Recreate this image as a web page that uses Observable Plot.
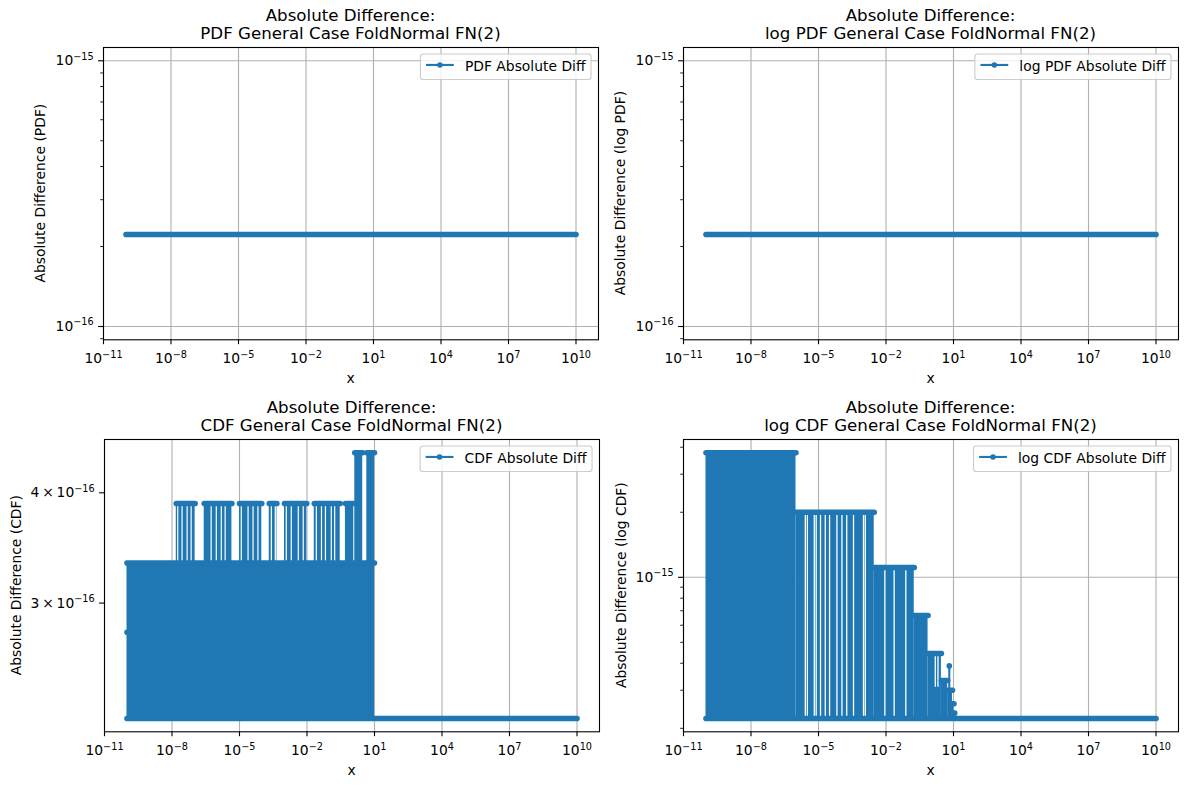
<!DOCTYPE html>
<html>
<head>
<meta charset="utf-8">
<script src="https://cdn.jsdelivr.net/npm/d3@7"></script>
<script src="https://cdn.jsdelivr.net/npm/@observablehq/plot@0.6"></script>
<style>
  html, body { margin: 0; padding: 0; background: #fff; }
  #figure { position: relative; width: 1189px; height: 789px; overflow: hidden; background: #fff; }
  #figure svg { position: absolute; overflow: visible; }
</style>
</head>
<body>
<div id="figure"></div>
<script>
// ---------------- data ----------------
// x was evaluated on a log grid from 1e-10 to 1e10
const xRange = [1e-10, 1e10];
const xTicks = [1e-11, 1e-8, 1e-5, 1e-2, 1e1, 1e4, 1e7, 1e10];

// PDF and log PDF: the absolute difference stays at 2.22e-16 everywhere
const pdfLevel = 2.22e-16;
const logPdfLevel = 2.22e-16;
const pdfYTicks = [1e-16, 1e-15];
const pdfYMinor = [9e-17, 2e-16, 3e-16, 4e-16, 5e-16, 6e-16, 7e-16, 8e-16, 9e-16];

// CDF: dense alternation between the floor and 3.33e-16 up to x ≈ 10, flat afterwards
const cdfFloor = 2.22e-16;
const cdfFirstPoint = [1e-10, 2.78e-16];
const cdfDenseEnd = 10;
const cdfDenseTop = 3.33e-16;
// runs of samples that reach 3.89e-16: [from, to]
const cdfLevelB = 3.89e-16;
const cdfRunsB = [[1.55e-8, 1.07e-7], [2.7e-7, 4.6e-6], [1.0e-5, 9.8e-5], [2.1e-4, 4.6e-4],
                  [1.0e-3, 9.8e-3], [2.1e-2, 0.30], [0.51, 1.2]];
// x where the series drops back between those samples
const cdfGapsB = [1.8e-8, 2.8e-8, 4.7e-8, 7.1e-8,
                  5.5e-7, 9.3e-7, 1.55e-6, 2.3e-6,
                  1.2e-5, 2.4e-5, 4.0e-5, 6.6e-5,
                  2.6e-4, 3.9e-4,
                  1.2e-3, 2.0e-3, 4.1e-3, 6.8e-3,
                  2.6e-2, 4.4e-2, 6.6e-2, 0.12, 0.17];
// runs that reach 4.44e-16
const cdfLevelC = 4.44e-16;
const cdfRunsC = [[1.33, 3.0], [4.55, 10]];
const cdfYTicks = [3e-16, 4e-16];
const cdfYTickLabels = ["3\u2009×\u200910^−16", "4\u2009×\u200910^−16"];

// log CDF: staircase of dense alternation [from, to, upper level], floor 2.22e-16
const lcdfFloor = 2.22e-16;
const lcdfSteps = [
  [1e-10, 1.0e-6, 3.77e-15],
  [1.0e-6, 3.0e-3, 2.0e-15],
  [3.0e-3, 0.18, 1.11e-15],
  [0.18, 0.74, 6.66e-16],
  [0.74, 2.9, 4.44e-16],
  [2.9, 5.5, 3.33e-16],
  [5.5, 9.0, 3.0e-16],
  [9.0, 10.5, 2.6e-16],
  [10.5, 11.3, 2.35e-16]
];
const lcdfGaps = [2.6e-6, 3.2e-6, 6.5e-6, 7.9e-6, 1.23e-5, 2.0e-5, 3.1e-5, 6.6e-5,
                  1.1e-4, 1.8e-4, 3.6e-4, 1.0e-3, 1.2e-3, 8.9e-3, 2.3e-2, 7.6e-2];
const lcdfShortGaps = [1.55, 2.04];
const lcdfShortGapLow = 3.1e-16;
const lcdfSpike = {x: 6.5, y1: 3.0e-16, y2: 3.89e-16};
const lcdfYTicks = [1e-15];
const lcdfYMinor = [2e-16, 3e-16, 4e-16, 5e-16, 6e-16, 7e-16, 8e-16, 9e-16, 2e-15, 3e-15, 4e-15];

// ---------------- style ----------------
const BLUE = "#1f77b4";
const GRID = "#b0b0b0";
const FONT = "DejaVu Sans";
const ROW = 5.6;       // thickness of a run of overlapping point markers
const DOT_R = 2.8;
const FRAME_W = 495, FRAME_H = 292.3;

// matplotlib-like log autoscale: 5% margin in log space, a full decade when flat
function padLog([a, b]) {
  let la = Math.log10(a), lb = Math.log10(b);
  if (la === lb) { la = Math.floor(la); lb = Math.ceil(lb); }
  const m = (lb - la) * 0.05;
  return [10 ** (la - m), 10 ** (lb + m)];
}
const powTen = v => "10^" + String(Math.round(Math.log10(v))).replace("-", "−");

// ---------------- marks ----------------
const rowMark = rows => Plot.link(rows, {x1: "x1", x2: "x2", y1: "y", y2: "y",
  stroke: BLUE, strokeWidth: ROW, strokeLinecap: "round"});

function flatMarks(level) {
  return [rowMark([{x1: xRange[0], x2: xRange[1], y: level}])];
}

function cdfMarks() {
  const blocks = [
    {x1: xRange[0], x2: cdfDenseEnd, y1: cdfFloor, y2: cdfDenseTop},
    ...cdfRunsB.map(([a, b]) => ({x1: a, x2: b, y1: cdfDenseTop, y2: cdfLevelB})),
    ...cdfRunsC.map(([a, b]) => ({x1: a, x2: b, y1: cdfDenseTop, y2: cdfLevelC}))
  ];
  const gaps = cdfGapsB.map(x => ({x, y1: cdfDenseTop, y2: cdfLevelB}));
  const rows = [
    {x1: xRange[0], x2: xRange[1], y: cdfFloor},
    {x1: xRange[0], x2: cdfDenseEnd, y: cdfDenseTop},
    ...cdfRunsB.map(([a, b]) => ({x1: a, x2: b, y: cdfLevelB})),
    ...cdfRunsC.map(([a, b]) => ({x1: a, x2: b, y: cdfLevelC}))
  ];
  return [
    Plot.rect(blocks, {x1: "x1", x2: "x2", y1: "y1", y2: "y2", fill: BLUE}),
    Plot.ruleX(gaps, {x: "x", y1: "y1", y2: "y2", stroke: "white", strokeWidth: 1.2}),
    rowMark(rows),
    Plot.dot([cdfFirstPoint], {x: d => d[0], y: d => d[1], r: DOT_R, fill: BLUE})
  ];
}

function lcdfMarks() {
  const blocks = lcdfSteps.map(([a, b, lv]) => ({x1: a, x2: b, y1: lcdfFloor, y2: lv}));
  const levelAt = x => lcdfSteps.find(([a, b]) => x >= a && x <= b)[2];
  const gaps = [
    ...lcdfGaps.map(x => ({x, y1: lcdfFloor, y2: levelAt(x)})),
    ...lcdfShortGaps.map(x => ({x, y1: lcdfShortGapLow, y2: levelAt(x)}))
  ];
  const rows = [
    {x1: xRange[0], x2: xRange[1], y: lcdfFloor},
    ...lcdfSteps.map(([a, b, lv]) => ({x1: a, x2: b, y: lv}))
  ];
  return [
    Plot.rect(blocks, {x1: "x1", x2: "x2", y1: "y1", y2: "y2", fill: BLUE}),
    Plot.ruleX(gaps, {x: "x", y1: "y1", y2: "y2", stroke: "white", strokeWidth: 1.3}),
    rowMark(rows),
    Plot.ruleX([lcdfSpike], {x: "x", y1: "y1", y2: "y2", stroke: BLUE, strokeWidth: 2.1}),
    Plot.dot([lcdfSpike], {x: "x", y: "y2", r: DOT_R, fill: BLUE})
  ];
}

// ---------------- panels ----------------
const panels = [
  {left: 103.3, top: 47.3, kind: "PDF", ylabel: "Absolute Difference (PDF)", legend: "PDF Absolute Diff",
   yDomain: padLog([pdfLevel, pdfLevel]), yTicks: pdfYTicks, yGrid: pdfYTicks, yMinor: pdfYMinor,
   yFormat: powTen, marks: flatMarks(pdfLevel), ylabelOffset: 63},
  {left: 683.3, top: 47.3, kind: "log PDF", ylabel: "Absolute Difference (log PDF)", legend: "log PDF Absolute Diff",
   yDomain: padLog([logPdfLevel, logPdfLevel]), yTicks: pdfYTicks, yGrid: pdfYTicks, yMinor: pdfYMinor,
   yFormat: powTen, marks: flatMarks(logPdfLevel), ylabelOffset: 63},
  {left: 103.7, top: 439.3, kind: "CDF", ylabel: "Absolute Difference (CDF)", legend: "CDF Absolute Diff",
   yDomain: padLog([cdfFloor, cdfLevelC]), yTicks: cdfYTicks, yGrid: [], yMinor: [],
   yFormat: d => cdfYTickLabels[cdfYTicks.indexOf(d)], marks: cdfMarks(), ylabelOffset: 88},
  {left: 683.3, top: 439.3, kind: "log CDF", ylabel: "Absolute Difference (log CDF)", legend: "log CDF Absolute Diff",
   yDomain: padLog([lcdfFloor, lcdfSteps[0][2]]), yTicks: lcdfYTicks, yGrid: lcdfYTicks, yMinor: lcdfYMinor,
   yFormat: powTen, marks: lcdfMarks(), ylabelOffset: 62}
];

const SVGNS = "http://www.w3.org/2000/svg";
function superscripts(svg) {
  svg.querySelectorAll("text").forEach(t => {
    const s = t.textContent, i = s.indexOf("^");
    if (i < 0) return;
    t.textContent = "";
    const base = document.createElementNS(SVGNS, "tspan");
    base.textContent = s.slice(0, i);
    const exp = document.createElementNS(SVGNS, "tspan");
    exp.textContent = s.slice(i + 1);
    exp.setAttribute("font-size", "9.7px");
    exp.setAttribute("dy", "-5.5");
    t.append(base, exp);
  });
}

const fig = document.getElementById("figure");
for (const p of panels) {
  const mL = 130, mR = 12, mT = 60, mB = 60;
  const svg = Plot.plot({
    width: mL + FRAME_W + mR, height: mT + FRAME_H + mB,
    marginLeft: mL, marginRight: mR, marginTop: mT, marginBottom: mB,
    x: {type: "log", domain: padLog(xRange)},
    y: {type: "log", domain: p.yDomain},
    style: {background: "transparent", fontFamily: FONT, fontSize: "13.9px", color: "black", overflow: "visible"},
    marks: [
      Plot.gridX(xTicks, {stroke: GRID, strokeOpacity: 1, strokeWidth: 1.1}),
      p.yGrid.length ? Plot.gridY(p.yGrid, {stroke: GRID, strokeOpacity: 1, strokeWidth: 1.1}) : null,
      ...p.marks,
      Plot.axisX(xTicks, {anchor: "bottom", tickSize: 4.9, tickPadding: 8.6, tickFormat: powTen,
        label: null, strokeWidth: 1.1}),
      Plot.axisY(p.yTicks, {anchor: "left", tickSize: 4.9, tickPadding: 4.9, tickFormat: p.yFormat,
        label: null, strokeWidth: 1.1}),
      p.yMinor.length ? Plot.axisY(p.yMinor, {anchor: "left", tickSize: 2.8, tickFormat: () => "",
        label: null, strokeWidth: 0.85}) : null,
      Plot.frame({stroke: "black", strokeWidth: 1.1})
    ]
  });
  svg.style.position = "absolute";
  svg.style.maxWidth = "none";
  svg.style.left = (p.left - mL) + "px";
  svg.style.top = (p.top - mT) + "px";
  fig.appendChild(svg);
  superscripts(svg);

  const s = d3.select(svg);
  const cx = mL + FRAME_W / 2, cy = mT + FRAME_H / 2;

  // two-line title
  const title = s.append("g").attr("font-family", FONT).attr("font-size", 16.67)
    .attr("text-anchor", "middle").attr("fill", "black");
  title.append("text").attr("x", cx).attr("y", mT - 25.8).text("Absolute Difference:");
  title.append("text").attr("x", cx).attr("y", mT - 7.5).text(p.kind + " General Case FoldNormal FN(2)");

  // axis labels
  s.append("text").attr("x", cx).attr("y", mT + FRAME_H + 44)
    .attr("text-anchor", "middle").attr("font-family", FONT).attr("font-size", 13.9).attr("fill", "black").text("x");
  s.append("text")
    .attr("transform", `translate(${mL - p.ylabelOffset},${cy}) rotate(-90)`)
    .attr("dy", "0.35em").attr("text-anchor", "middle")
    .attr("font-family", FONT).attr("font-size", 13.9).attr("fill", "black").text(p.ylabel);

  // legend
  const lg = s.append("g").attr("font-family", FONT).attr("font-size", 13.9).attr("text-anchor", "start");
  const box = lg.append("rect");
  const txt = lg.append("text").attr("fill", "black").attr("text-anchor", "start").text(p.legend);
  const tw = txt.node().getComputedTextLength();
  const pad = 5.56, handle = 27.8, gap = 11.1, h = 25.5;
  const w = pad + handle + gap + tw + pad;
  const x0 = mL + FRAME_W - 6.95 - w, y0 = mT + 6.95;
  box.attr("x", x0).attr("y", y0).attr("width", w).attr("height", h).attr("rx", 2.8)
    .attr("fill", "white").attr("fill-opacity", 0.8).attr("stroke", "#cccccc").attr("stroke-width", 1.1);
  const hy = y0 + 11;
  lg.append("line").attr("x1", x0 + pad).attr("x2", x0 + pad + handle).attr("y1", hy).attr("y2", hy)
    .attr("stroke", BLUE).attr("stroke-width", 2.1);
  lg.append("circle").attr("cx", x0 + pad + handle / 2).attr("cy", hy).attr("r", DOT_R).attr("fill", BLUE);
  txt.attr("x", x0 + pad + handle + gap).attr("y", y0 + 17.4);
}
</script>
</body>
</html>
